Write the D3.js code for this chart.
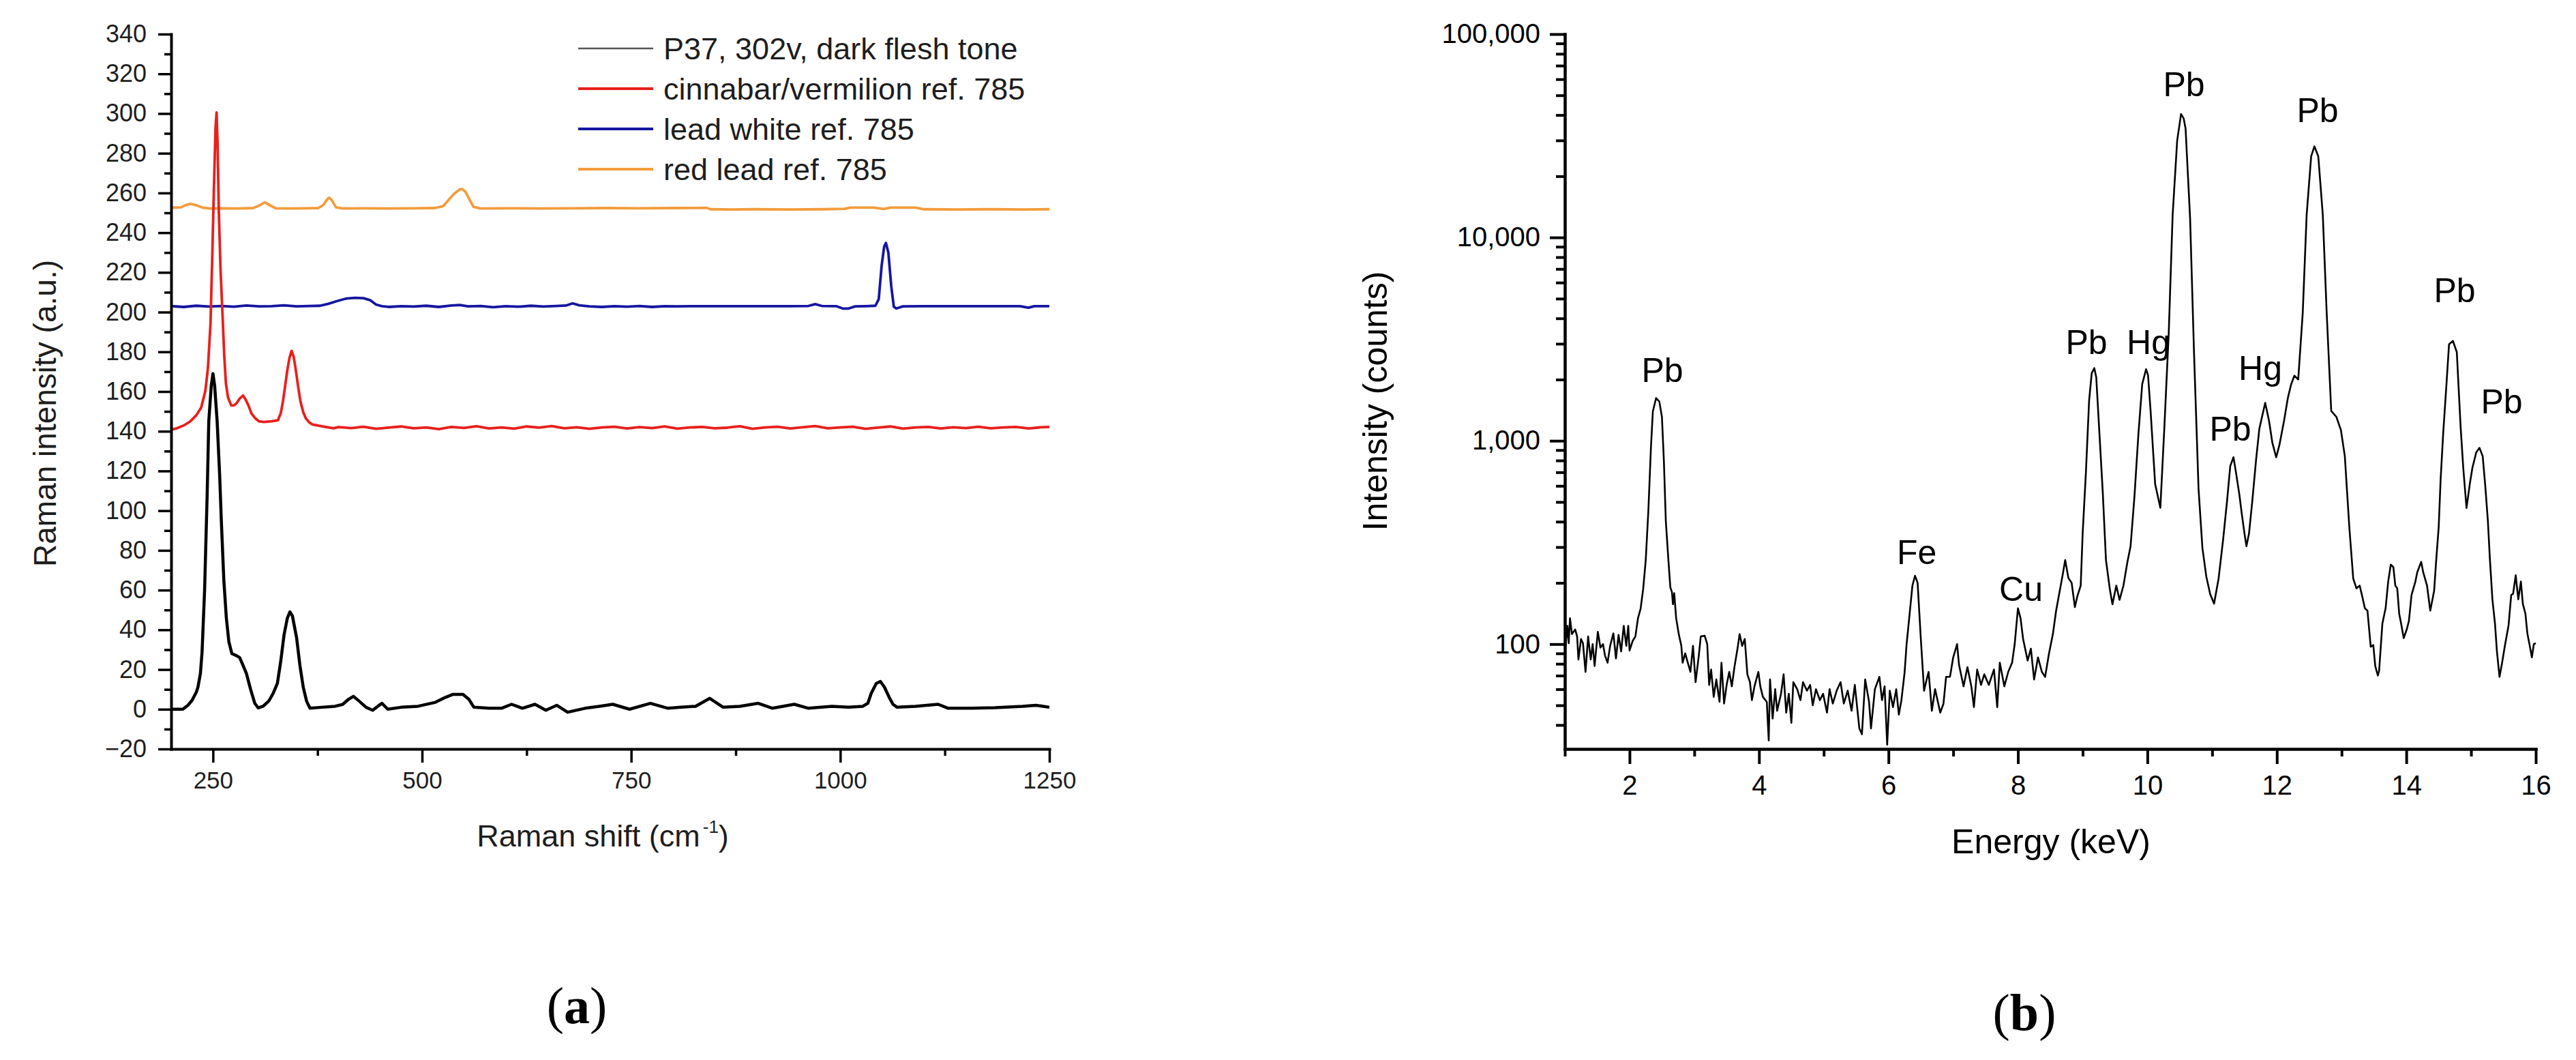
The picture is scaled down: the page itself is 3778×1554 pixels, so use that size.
<!DOCTYPE html>
<html><head><meta charset="utf-8">
<script src="https://cdn.jsdelivr.net/npm/d3@7"></script>
<style>body{margin:0;background:#fff}svg{display:block;background:#fff}</style>
</head><body>
<svg id="chart" width="3778" height="1554"></svg>
<script>
// ---------------- Panel (a): Raman spectra ----------------
const ramanXTicks = [250, 500, 750, 1000, 1250];
const ramanXMinor = [375, 625, 875, 1125];
const ramanYTicks = d3.range(-20, 341, 20);
const ramanYMinor = d3.range(-10, 340, 20);
const seriesNames = ["P37, 302v, dark flesh tone", "cinnabar/vermilion ref. 785", "lead white ref. 785", "red lead ref. 785"];

const blackX = [200,214,220,225,230,232,235,237,240,243,245,248,250,252,255,258,260,263,266,269,272.6,278,282,286,290,295,300,304,310,317,322,327,331,335,339,342,345,350,354,358,362,366,380,396,405,412,418,425,433,441,447,452,459,475,495,516,528,537,549,556,562,580,595,607,620,635,648,661,674,695,712,728,748,773,794,810,827,844,860,880,902,919,945,962,990,1010,1027,1033,1037,1043,1048,1053,1058.5,1063,1068,1090,1117,1129,1157,1185,1218,1234,1250];
const blackY = [0,0,2,4.5,8.5,11,18,29,60,107,145,163,169,163,145,118,95,65,46,34,28,27,26,22,18,10,3,0.7,1.5,4.3,8,13,24,37.5,46,49,47,36,22,11,4,0.5,1,1.5,2.4,5,6.5,4,1,-0.5,1.5,3,0,1,1.5,3.5,6,7.5,7.5,5,1,0.5,0.5,2.5,0.5,2.5,-0.5,2,-1.5,0.5,1.5,2.5,0,3,0.5,1,1.5,5.5,1,1.5,3,0.5,2.5,0.5,1.5,1,1.5,3,8,13,14,11,6,2.5,1,1.5,2.5,0.5,0.5,0.8,1.5,2,1];

const redX = [200,207,215.5,223,230,236,241,244,247,249,251,253,254.3,255.5,257,259,261.4,263.5,265.5,268,271.8,275,278,282,286,289,292.4,296,300.6,305,311,320,327.6,331,333.7,336,339,341.5,344,346.5,349,352,354.6,358,361,365,369,380,394,400,415,430,445,460,475,490,505,520,535,550,565,580,595,610,625,640,655,670,685,700,715,730,745,760,775,790,805,820,835,850,865,880,895,910,925,940,955,970,985,1000,1015,1030,1045,1060,1075,1090,1105,1120,1135,1150,1165,1180,1195,1210,1225,1240,1250];
const redY = [140.8,141.5,143,145,148,152,160.5,172,193.6,225,260,292,300.5,285,251,222,199,178,164,157,153,153,154,156.5,158,156,153,149,146.5,145,144.7,145,145.5,149,155,162,171,177,180.5,177.5,171,162,155,149.5,146.5,144.5,143.4,142.5,141.5,142.1,141.6,142.3,141.2,141.8,142.4,141.5,141.9,141.1,142.2,141.7,142.5,141.4,141.9,141.3,142.4,141.8,142.6,141.5,142.0,141.2,141.9,142.3,141.4,142.1,141.6,142.4,141.3,141.9,142.2,141.5,141.8,142.5,141.2,141.9,142.3,141.4,142.0,142.6,141.5,141.9,142.3,141.2,141.8,142.4,141.3,141.9,142.2,141.4,142.0,141.6,142.3,141.5,141.9,142.2,141.4,142.0,142.2];

const blueX = [200,215,230,245,260,275,290,305,320,335,350,365,378,388,398,409,420,430,438,445,452,460,475,490,505,520,535,545,555,570,585,600,615,630,645,660,672,680,688,700,715,730,745,760,775,790,805,820,850,880,910,940,962,970,978,995,1003,1010,1018,1030,1042,1046,1049.5,1052.5,1054.6,1057.5,1061,1064,1067,1075,1100,1130,1160,1190,1215,1225,1232,1250];
const blueY = [203.0,202.6,203.2,202.8,203.1,202.7,203.3,202.9,203.0,203.4,202.9,203.1,203.2,204.2,205.5,206.8,207.2,207.0,206.0,203.8,203.0,202.6,203.0,202.8,203.2,202.6,203.3,203.6,202.9,203.1,202.5,203.0,202.7,203.2,202.8,203.1,203.3,204.4,203.4,202.9,202.6,203.0,202.7,203.1,202.6,203.0,202.9,203.0,203.0,203.0,203.0,203.0,203.1,204.0,203.1,203.0,201.8,201.8,202.9,203.0,203.2,206.5,223.5,233,234.8,230,213,202.8,201.8,202.9,203.0,203.0,203.0,203.0,203.0,202.2,203.0,203.0];

const orangeX = [200,212,218,223,230,238,246,260,280,298,305,312,319,325,340,360,376,382,387,389,392,397,405,430,460,490,515,525,532,538,545,548,552,557,561.5,570,600,640,680,720,760,800,840,845,870,900,940,980,1005,1012,1040,1052,1060,1090,1100,1140,1180,1220,1250];
const orangeY = [252.6,252.8,254.0,254.5,253.8,252.6,252.2,252.3,252.2,252.4,253.6,255.3,253.6,252.3,252.2,252.3,252.4,254.0,257.0,257.6,256.4,252.8,252.2,252.3,252.2,252.3,252.4,253.3,256.6,259.5,261.8,262.0,260.5,256.5,253.0,252.2,252.3,252.2,252.3,252.4,252.3,252.4,252.5,251.8,251.7,251.8,251.7,251.8,252.0,252.6,252.6,251.9,252.6,252.6,251.8,251.7,251.8,251.7,251.8];

// ---------------- Panel (b): XRF spectrum ----------------
const energyTicks = [2, 4, 6, 8, 10, 12, 14, 16];
const energyMinor = [1, 3, 5, 7, 9, 11, 13, 15];
const countTicks = [100, 1000, 10000, 100000];
const countMinor = [40,50,60,70,80,90,200,300,400,500,600,700,800,900,2000,3000,4000,5000,6000,7000,8000,9000,20000,30000,40000,50000,60000,70000,80000,90000];

const energy = [1.00,1.01,1.04,1.06,1.08,1.11,1.16,1.19,1.21,1.25,1.28,1.32,1.36,1.40,1.43,1.46,1.51,1.55,1.59,1.62,1.66,1.70,1.75,1.79,1.83,1.87,1.91,1.95,1.98,2.00,2.05,2.09,2.13,2.17,2.21,2.25,2.29,2.33,2.36,2.41,2.46,2.50,2.53,2.56,2.60,2.63,2.655,2.67,2.69,2.72,2.76,2.80,2.82,2.86,2.90,2.94,2.98,3.02,3.07,3.10,3.16,3.20,3.23,3.26,3.30,3.34,3.39,3.42,3.46,3.50,3.54,3.58,3.62,3.67,3.70,3.74,3.78,3.82,3.86,3.89,3.93,3.99,4.02,4.06,4.12,4.15,4.17,4.21,4.25,4.28,4.34,4.38,4.42,4.46,4.50,4.53,4.59,4.64,4.68,4.74,4.79,4.83,4.88,4.94,4.99,5.05,5.09,5.14,5.20,5.26,5.31,5.37,5.43,5.48,5.55,5.59,5.64,5.70,5.73,5.79,5.86,5.90,5.94,5.98,6.02,6.07,6.12,6.16,6.20,6.25,6.28,6.32,6.37,6.41,6.45,6.50,6.55,6.59,6.62,6.67,6.72,6.80,6.85,6.89,6.95,7.00,7.06,7.09,7.16,7.22,7.28,7.32,7.37,7.43,7.48,7.55,7.63,7.68,7.72,7.79,7.85,7.91,7.95,8.00,8.04,8.08,8.15,8.20,8.25,8.31,8.37,8.42,8.48,8.54,8.59,8.65,8.69,8.73,8.78,8.83,8.88,8.92,8.97,9.00,9.05,9.10,9.14,9.18,9.21,9.25,9.31,9.36,9.42,9.46,9.52,9.57,9.63,9.69,9.74,9.80,9.86,9.92,9.98,10.01,10.05,10.12,10.20,10.26,10.33,10.39,10.46,10.52,10.56,10.59,10.66,10.72,10.79,10.85,10.91,10.97,11.03,11.10,11.17,11.23,11.28,11.33,11.37,11.42,11.46,11.50,11.53,11.57,11.62,11.68,11.73,11.82,11.88,11.93,11.99,12.04,12.11,12.17,12.22,12.27,12.33,12.40,12.46,12.53,12.58,12.64,12.71,12.77,12.84,12.92,12.99,13.05,13.12,13.18,13.23,13.28,13.32,13.36,13.40,13.45,13.49,13.52,13.56,13.58,13.63,13.68,13.72,13.76,13.80,13.83,13.86,13.89,13.92,13.96,14.01,14.04,14.08,14.14,14.17,14.23,14.26,14.32,14.37,14.43,14.46,14.50,14.53,14.57,14.62,14.66,14.72,14.78,14.84,14.88,14.93,14.98,15.02,15.08,15.13,15.18,15.22,15.26,15.29,15.33,15.37,15.40,15.44,15.48,15.52,15.58,15.62,15.65,15.69,15.73,15.77,15.80,15.84,15.87,15.91,15.94,15.97,16.00];
const counts = [105,96,123,101,134,112,118,109,84,106,101,73,109,84,100,78,115,96,100,88,81,98,113,85,111,92,123,98,123,93,104,109,134,149,186,259,450,922,1393,1622,1560,1310,802,404,259,190,180,157,178,134,112,98,81,90,81,73,98,65,88,109,110,100,63,75,55,67,52,81,51,63,73,62,77,96,112,98,106,71,65,53,62,73,62,55,52,33.6,67,43,60,47,57,71,46,57,41,65,60,53,65,59,63,50,60,53,57,46,60,51,59,65,51,59,47,63,38.5,36,67,52,38.5,60,69,53,62,32,59,49,60,45,53,73,100,134,194,217,200,106,59,67,73,47,60,46,51,69,69,86,100,79,62,77,62,49,75,63,71,63,75,49,81,62,73,81,100,150,134,106,83,95,67,86,73,69,90,112,146,186,218,259,211,200,152,173,194,351,698,1585,2150,2276,2050,1219,563,259,186,157,194,165,194,252,303,531,1065,1900,2250,2100,1393,612,468,1127,3404,12880,29940,40450,38500,34280,12360,2729,582,297,215,176,158,210,327,503,750,830,693,546,433,350,303,350,503,812,1149,1538,1248,980,830,955,1248,1622,1890,2090,2000,4256,12880,25060,28050,25060,12880,4256,1403,1310,1127,841,374,210,188,194,171,150,146,97,99,78,70,74,126,150,203,246,239,194,188,141,126,107,119,130,174,203,226,254,226,194,146,183,254,375,644,1092,1890,2980,3098,2729,1156,734,467,610,734,876,923,840,598,404,266,166,126,92,69,81,97,124,174,177,218,166,203,158,141,113,97,86,100,101];

const peakLabels = ["Pb","Fe","Cu","Pb","Hg","Pb","Pb","Hg","Pb","Pb","Pb"];
const peakLabelEnergy = [2.506,6.436,8.047,9.059,10.017,10.565,11.281,11.745,12.63,14.747,15.474];
const peakLabelCounts = [1951,248,163,2679,2679,49700,1004,1997,37050,4818,1367];

// ---------------- drawing ----------------
const svg = d3.select('#chart');
const SANS = "'Liberation Sans', Arial, sans-serif";
const SERIF = "'Liberation Serif', 'Times New Roman', serif";

function styleAxis(g, fontSize, color, domainW, tickW) {
  g.selectAll('.domain').attr('stroke', '#000').attr('stroke-width', domainW).attr('stroke-linecap', 'square');
  g.selectAll('.tick line').attr('stroke', '#000').attr('stroke-width', tickW);
  g.selectAll('.tick text').attr('font-family', SANS).attr('font-size', fontSize).attr('fill', color);
}

// ----- Panel (a)
const xA = d3.scaleLinear().domain([200, 1250]).range([251, 1539]);
const yA = d3.scaleLinear().domain([-20, 340]).range([1098, 50]);
const gA = svg.append('g');

const lineA = (xs, ys) => d3.line().x((d, i) => xA(xs[i])).y((d, i) => yA(ys[i]))(xs);
const seriesA = [
  {x: orangeX, y: orangeY, color: '#f39c3c', w: 3.8},
  {x: blueX, y: blueY, color: '#1616a0', w: 3.8},
  {x: redX, y: redY, color: '#e8201c', w: 3.8},
  {x: blackX, y: blackY, color: '#000000', w: 4.5}
];
seriesA.forEach(s => {
  gA.append('path').attr('d', lineA(s.x, s.y)).attr('fill', 'none')
    .attr('stroke', s.color).attr('stroke-width', s.w).attr('stroke-linejoin', 'round');
});

const axA_x = gA.append('g').attr('transform', 'translate(0,1098)')
  .call(d3.axisBottom(xA).tickValues(ramanXTicks).tickFormat(d3.format('d')).tickSize(20).tickSizeOuter(0).tickPadding(13));
styleAxis(axA_x, 35, '#1e1e1e', 4, 3.5);
const axA_xm = gA.append('g').attr('transform', 'translate(0,1098)')
  .call(d3.axisBottom(xA).tickValues(ramanXMinor).tickSize(10).tickFormat(''));
axA_xm.select('.domain').remove();
styleAxis(axA_xm, 35, '#1e1e1e', 4, 3.5);

const axA_y = gA.append('g').attr('transform', 'translate(251,0)')
  .call(d3.axisLeft(yA).tickValues(ramanYTicks).tickFormat(d3.format('d')).tickSize(19).tickSizeOuter(0).tickPadding(17));
styleAxis(axA_y, 36, '#1e1e1e', 4, 3.5);
const axA_ym = gA.append('g').attr('transform', 'translate(251,0)')
  .call(d3.axisLeft(yA).tickValues(ramanYMinor).tickSize(10).tickFormat(''));
axA_ym.select('.domain').remove();
styleAxis(axA_ym, 36, '#1e1e1e', 4, 3.5);

// axis titles (a)
const xtA = gA.append('text').attr('x', 884).attr('y', 1241).attr('text-anchor', 'middle')
  .attr('font-family', SANS).attr('font-size', 45).attr('fill', '#1e1e1e');
xtA.append('tspan').text('Raman shift (cm');
xtA.append('tspan').attr('font-size', 26).attr('dy', -20).attr('dx', 4).text('-1');
xtA.append('tspan').attr('dy', 20).text(')');

gA.append('text').attr('transform', 'translate(82,606) rotate(-90)').attr('text-anchor', 'middle')
  .attr('font-family', SANS).attr('font-size', 46).attr('fill', '#1e1e1e').text('Raman intensity (a.u.)');

// legend (a)
const legColors = ['#555555', '#e8201c', '#1616a0', '#f39c3c'];
const legW = [2.5, 4, 4, 4];
seriesNames.forEach((name, i) => {
  const cy = 71 + i * 59;
  gA.append('line').attr('x1', 848).attr('x2', 958).attr('y1', cy).attr('y2', cy)
    .attr('stroke', legColors[i]).attr('stroke-width', legW[i]);
  gA.append('text').attr('x', 973).attr('y', cy + 16).attr('font-family', SANS).attr('font-size', 45)
    .attr('fill', '#1e1e1e').text(name);
});

// panel letter (a)
const la = svg.append('text').attr('x', 846).attr('y', 1500).attr('text-anchor', 'middle')
  .attr('font-family', SERIF).attr('font-size', 76).attr('fill', '#000');
la.append('tspan').text('(');
la.append('tspan').attr('font-weight', 'bold').text('a');
la.append('tspan').text(')');

// ----- Panel (b)
const xB = d3.scaleLinear().domain([1, 16]).range([2295, 3719]);
const yB = d3.scaleLog().domain([30.5, 100000]).range([1098, 50]);
const gB = svg.append('g');

gB.append('path')
  .attr('d', d3.line().x((d, i) => xB(energy[i])).y((d, i) => yB(counts[i]))(energy))
  .attr('fill', 'none').attr('stroke', '#000').attr('stroke-width', 2.6).attr('stroke-linejoin', 'round');

const axB_x = gB.append('g').attr('transform', 'translate(0,1098)')
  .call(d3.axisBottom(xB).tickValues(energyTicks).tickSize(22).tickSizeOuter(0).tickPadding(17));
styleAxis(axB_x, 40, '#000', 4.5, 4);
const axB_xm = gB.append('g').attr('transform', 'translate(0,1098)')
  .call(d3.axisBottom(xB).tickValues(energyMinor).tickSize(11).tickFormat(''));
axB_xm.select('.domain').remove();
styleAxis(axB_xm, 40, '#000', 4.5, 4);

const axB_y = gB.append('g').attr('transform', 'translate(2295,0)')
  .call(d3.axisLeft(yB).tickValues(countTicks).tickFormat(d3.format(',')).tickSize(22).tickSizeOuter(0).tickPadding(14));
styleAxis(axB_y, 40, '#000', 4.5, 4);
const axB_ym = gB.append('g').attr('transform', 'translate(2295,0)')
  .call(d3.axisLeft(yB).tickValues(countMinor).tickSize(13).tickFormat(''));
axB_ym.select('.domain').remove();
styleAxis(axB_ym, 40, '#000', 4.5, 4);

gB.append('text').attr('x', 3008).attr('y', 1251).attr('text-anchor', 'middle')
  .attr('font-family', SANS).attr('font-size', 50).attr('fill', '#000').text('Energy (keV)');
gB.append('text').attr('transform', 'translate(2034,588) rotate(-90)').attr('text-anchor', 'middle')
  .attr('font-family', SANS).attr('font-size', 50).attr('fill', '#000').text('Intensity (counts)');

peakLabels.forEach((t, i) => {
  gB.append('text').attr('x', xB(peakLabelEnergy[i])).attr('y', yB(peakLabelCounts[i]))
    .attr('text-anchor', 'middle').attr('font-family', SANS).attr('font-size', 50).attr('fill', '#000').text(t);
});

const lb = svg.append('text').attr('x', 2969).attr('y', 1510).attr('text-anchor', 'middle')
  .attr('font-family', SERIF).attr('font-size', 76).attr('fill', '#000');
lb.append('tspan').text('(');
lb.append('tspan').attr('font-weight', 'bold').text('b');
lb.append('tspan').text(')');
</script>
</body></html>
